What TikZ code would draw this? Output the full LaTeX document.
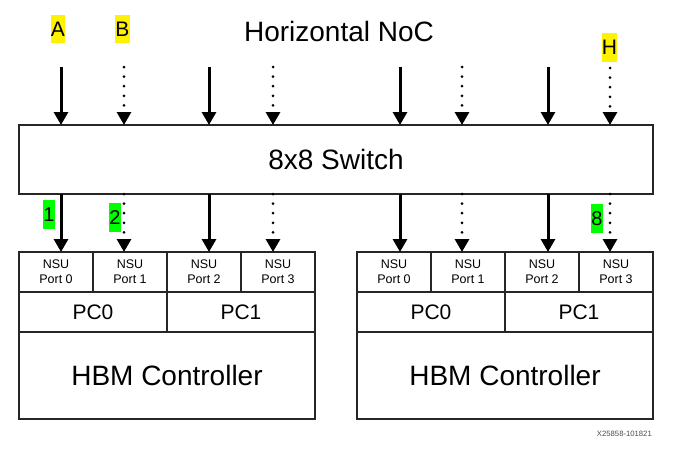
\documentclass[tikz,border=0pt]{standalone}
\usepackage{fontspec}
\setmainfont{Liberation Sans}
\usetikzlibrary{arrows.meta}

\begin{document}
\begin{tikzpicture}[x=1pt, y=-1pt,
        box/.style={draw=black!85, line width=1.3pt, outer sep=0pt, inner sep=0pt, anchor=north west},
        port/.style={box, minimum width=74pt, minimum height=40pt, align=center, font=\fontsize{12.5}{15}\selectfont},
        pc/.style={box, minimum width=148pt, minimum height=40pt, font=\fontsize{21}{24}\selectfont},
        ctrl/.style={box, minimum width=296pt, minimum height=87pt, font=\fontsize{28}{32}\selectfont},
        link/.style={line width=3pt, -{Triangle[width=14pt, length=13pt]}},
        lane/.style={link, line cap=round, dash pattern=on 0pt off 9.6pt},
        inlabel/.style={fill=yellow, inner sep=0pt, minimum width=14pt, minimum height=28pt, font=\fontsize{21}{24}\selectfont},
        outlabel/.style={fill=green, inner sep=0pt, minimum width=12pt, minimum height=29pt, font=\fontsize{20}{24}\selectfont}
    ]
        \useasboundingbox (0,0) rectangle (697,458);

        % Title and switch
        \node[inner sep=0pt, font=\fontsize{28}{32}\selectfont] (noc) at (339,31) {Horizontal NoC};
        \node[box, minimum width=634pt, minimum height=69pt, font=\fontsize{28}{32}\selectfont] (sw) at (19,125) {8x8 Switch};

        % Left HBM controller
        \node[port] (pL0) at (19,252) {NSU\\Port 0};
        \node[port] (pL1) at (93,252) {NSU\\Port 1};
        \node[port] (pL2) at (167,252) {NSU\\Port 2};
        \node[port] (pL3) at (241,252) {NSU\\Port 3};
        \node[pc] (pcL0) at (19,292) {PC0};
        \node[pc] (pcL1) at (167,292) {PC1};
        \node[ctrl] (hbmL) at (19,332) {HBM Controller};

        % Right HBM controller
        \node[port] (pR0) at (357,252) {NSU\\Port 0};
        \node[port] (pR1) at (431,252) {NSU\\Port 1};
        \node[port] (pR2) at (505,252) {NSU\\Port 2};
        \node[port] (pR3) at (579,252) {NSU\\Port 3};
        \node[pc] (pcR0) at (357,292) {PC0};
        \node[pc] (pcR1) at (505,292) {PC1};
        \node[ctrl] (hbmR) at (357,332) {HBM Controller};

        % NoC inputs
        \coordinate (inA) at (61,67);
        \coordinate (inB) at (124,67);
        \coordinate (inC) at (209,67);
        \coordinate (inD) at (273,67);
        \coordinate (inE) at (400,67);
        \coordinate (inF) at (462,67);
        \coordinate (inG) at (548,67);
        \coordinate (inH) at (610,68);

        % Arrows into the switch
        \draw[link] (inA) -- (inA |- sw.north);
        \draw[lane] (inB) -- (inB |- sw.north);
        \draw[link] (inC) -- (inC |- sw.north);
        \draw[lane] (inD) -- (inD |- sw.north);
        \draw[link] (inE) -- (inE |- sw.north);
        \draw[lane] (inF) -- (inF |- sw.north);
        \draw[link] (inG) -- (inG |- sw.north);
        \draw[lane] (inH) -- (inH |- sw.north);

        % Arrows to the NSU ports
        \draw[link] (inA |- sw.south) -- (inA |- pL0.north);
        \draw[lane] (inB |- sw.south) -- (inB |- pL1.north);
        \draw[link] (inC |- sw.south) -- (inC |- pL2.north);
        \draw[lane] (inD |- sw.south) -- (inD |- pL3.north);
        \draw[link] (inE |- sw.south) -- (inE |- pR0.north);
        \draw[lane] (inF |- sw.south) -- (inF |- pR1.north);
        \draw[link] (inG |- sw.south) -- (inG |- pR2.north);
        \draw[lane] (inH |- sw.south) -- (inH |- pR3.north);

        % Highlighted labels
        \node[inlabel] (labA) at (58,29) {A};
        \node[inlabel] (labB) at (122.5,29) {B};
        \node[inlabel, minimum width=15pt, minimum height=29pt] (labH) at (609.5,47.5) {H};
        \node[outlabel] (lab1) at (49,214.5) {1};
        \node[outlabel] (lab2) at (115,217.5) {2};
        \node[outlabel] (lab8) at (597,218.5) {8};

        \node[inner sep=0pt, anchor=east, text=black!70, font=\fontsize{7.7}{9}\selectfont] (fig) at (652,434) {X25858-101821};
    \end{tikzpicture}
\end{document}
